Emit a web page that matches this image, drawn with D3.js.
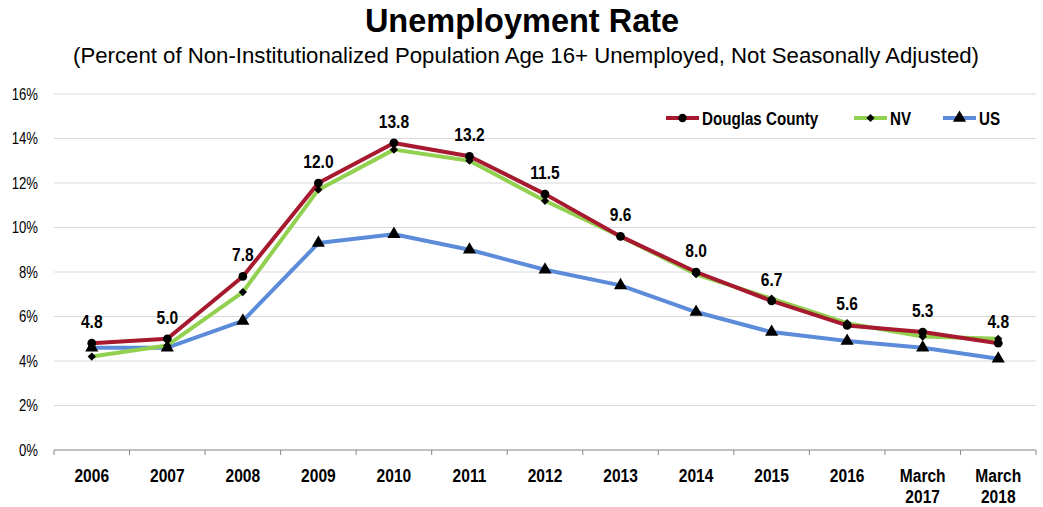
<!DOCTYPE html>
<html>
<head>
<meta charset="utf-8">
<script src="https://cdn.jsdelivr.net/npm/d3@7"></script>
<style>
  html, body { margin: 0; padding: 0; background: #fff; }
  svg { display: block; font-family: "Liberation Sans", Arial, sans-serif; }
</style>
</head>
<body>
<svg id="chart" width="1043" height="507"></svg>
<script>
// Categories along the x axis (multi-line labels split by "\n")
const categories = ["2006", "2007", "2008", "2009", "2010", "2011", "2012", "2013", "2014", "2015", "2016", "March\n2017", "March\n2018"];

// Unemployment rate, percent
const douglasCounty = [4.8, 5.0, 7.8, 12.0, 13.8, 13.2, 11.5, 9.6, 8.0, 6.7, 5.6, 5.3, 4.8];
const nevada        = [4.2, 4.7, 7.1, 11.7, 13.5, 13.0, 11.2, 9.6, 7.9, 6.8, 5.7, 5.1, 5.0];
const unitedStates  = [4.6, 4.6, 5.8, 9.3, 9.7, 9.0, 8.1, 7.4, 6.2, 5.3, 4.9, 4.6, 4.1];

const yTicks = [0, 2, 4, 6, 8, 10, 12, 14, 16];

// Condensed look for axis, label and legend text
const NARROW = 0.82;

const diamond = { draw(ctx, size) { const r = Math.sqrt(size / 2); ctx.moveTo(0, -r); ctx.lineTo(r, 0); ctx.lineTo(0, r); ctx.lineTo(-r, 0); ctx.closePath(); } };

const series = [
  { name: "US", values: unitedStates, color: "#5B8BD9", marker: d3.symbolTriangle, size: 75 },
  { name: "NV", values: nevada, color: "#92D050", marker: diamond, size: 34 },
  { name: "Douglas County", values: douglasCounty, color: "#A6192E", marker: d3.symbolCircle, size: 60 }
];

const svg = d3.select("#chart");
const margin = { left: 54, right: 1036, top: 94, bottom: 450 };

const x = d3.scaleBand().domain(categories).range([margin.left, margin.right]);
const y = d3.scaleLinear().domain([0, 16]).range([margin.bottom, margin.top]);
const cx = (i) => x(categories[i]) + x.bandwidth() / 2;
const narrowAt = (px, py) => `translate(${px},${py}) scale(${NARROW},1)`;

// Title and subtitle
svg.append("text").attr("x", 522).attr("y", 32).attr("text-anchor", "middle")
  .attr("font-size", 32.5).attr("font-weight", "bold").attr("fill", "#000")
  .text("Unemployment Rate");
svg.append("text").attr("x", 526).attr("y", 63).attr("text-anchor", "middle")
  .attr("font-size", 22.2).attr("fill", "#000")
  .text("(Percent of Non-Institutionalized Population Age 16+ Unemployed, Not Seasonally Adjusted)");

// Horizontal gridlines
svg.append("g").selectAll("line").data(yTicks.filter(d => d > 0)).join("line")
  .attr("x1", margin.left).attr("x2", margin.right)
  .attr("y1", d => y(d)).attr("y2", d => y(d))
  .attr("stroke", "#D9D9D9").attr("stroke-width", 1);

// Y axis labels
svg.append("g").selectAll("text").data(yTicks).join("text")
  .attr("transform", d => narrowAt(38, y(d) + 5.5))
  .attr("text-anchor", "end").attr("font-size", 16).attr("fill", "#000")
  .text(d => d + "%");

// X axis line with tick marks at category boundaries
svg.append("line").attr("x1", margin.left).attr("x2", margin.right)
  .attr("y1", y(0)).attr("y2", y(0)).attr("stroke", "#868686").attr("stroke-width", 1);
const boundaries = categories.map(c => x(c)).concat([x(categories[categories.length - 1]) + x.bandwidth()]);
svg.append("g").selectAll("line").data(boundaries).join("line")
  .attr("x1", d => d).attr("x2", d => d)
  .attr("y1", y(0)).attr("y2", y(0) + 5)
  .attr("stroke", "#868686").attr("stroke-width", 1);

// X category labels
const xl = svg.append("g").selectAll("text").data(categories).join("text")
  .attr("transform", d => narrowAt(x(d) + x.bandwidth() / 2, 482))
  .attr("text-anchor", "middle").attr("font-size", 19).attr("font-weight", "bold").attr("fill", "#000");
xl.each(function(d) {
  const lines = d.split("\n");
  d3.select(this).selectAll("tspan").data(lines).join("tspan")
    .attr("x", 0)
    .attr("dy", (l, i) => i === 0 ? 0 : 21)
    .text(l => l);
});

// Series lines and markers
const line = d3.line()
  .x((v, i) => cx(i))
  .y(v => y(v));

series.forEach(s => {
  svg.append("path").datum(s.values).attr("d", line)
    .attr("fill", "none").attr("stroke", s.color).attr("stroke-width", 4)
    .attr("stroke-linejoin", "round");
});
series.forEach(s => {
  svg.append("g").selectAll("path").data(s.values).join("path")
    .attr("transform", (v, i) => `translate(${cx(i)},${y(v)})`)
    .attr("d", d3.symbol().type(s.marker).size(s.size))
    .attr("fill", "#000");
});

// Data labels for Douglas County
svg.append("g").selectAll("text").data(douglasCounty).join("text")
  .attr("transform", (v, i) => narrowAt(cx(i), y(v) - 15))
  .attr("text-anchor", "middle").attr("font-size", 19).attr("font-weight", "bold").attr("fill", "#000")
  .text(v => v.toFixed(1));

// Legend
const legendItems = [
  { name: "Douglas County", color: "#A6192E", marker: d3.symbolCircle, size: 55, x: 666 },
  { name: "NV", color: "#92D050", marker: diamond, size: 34, x: 854 },
  { name: "US", color: "#5B8BD9", marker: d3.symbolTriangle, size: 75, x: 943 }
];
const lg = svg.append("g").selectAll("g").data(legendItems).join("g")
  .attr("transform", d => `translate(${d.x},118)`);
lg.append("line").attr("x1", 0).attr("x2", 33).attr("y1", 0).attr("y2", 0)
  .attr("stroke", d => d.color).attr("stroke-width", 4);
lg.append("path").attr("transform", "translate(16.5,0)")
  .attr("d", d => d3.symbol().type(d.marker).size(d.size)())
  .attr("fill", "#000");
lg.append("text").attr("transform", narrowAt(36, 7))
  .attr("font-size", 18.5).attr("font-weight", "bold").attr("fill", "#000")
  .text(d => d.name);
</script>
</body>
</html>
